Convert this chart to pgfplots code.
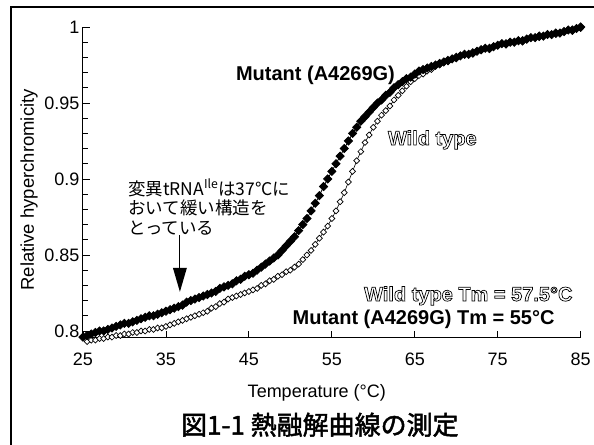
\documentclass[border=0pt]{standalone}
\usepackage{pgfplots}
\pgfplotsset{compat=1.18}
\usepackage{fontspec}
\setmainfont{Liberation Sans}
\newfontfamily\cjk{Noto Sans CJK JP}
\newcommand{\fs}[1]{\fontsize{#1bp}{#1bp}\selectfont}
\newcommand{\otext}[1]{\special{pdf:literal direct 1 Tr 0.7 w}#1\special{pdf:literal direct 0 Tr}}
\newcommand{\mtext}[1]{\special{pdf:literal direct 2 Tr 0.5 w}#1\special{pdf:literal direct 0 Tr}}
\begin{document}
\begin{tikzpicture}[x=1bp,y=1bp]
\begin{scope}[shift={(-83bp,-107bp)}]
\path[use as bounding box] (0,0) rectangle (594,445);
\draw[line width=1.3bp] (11,0) -- (11,438) -- (594,438);
\end{scope}
\begin{axis}[
  scale only axis, width=498bp, height=311bp,
  xmin=25, xmax=85, ymin=0.7955, ymax=1.0,
  axis x line*=bottom, axis y line*=left,
  axis line style={line width=1bp, -},
  xtick={25,35,45,55,65,75,85},
  ytick={0.8,0.85,0.9,0.95,1},
  yticklabels={0.8,0.85,0.9,0.95,1},
  minor y tick num=4,
  tick align=inside,
  major tick length=7bp, minor tick length=5bp,
  tick style={line width=0.8bp, black},
  /pgf/number format/assume math mode=true,
  ticklabel style={font=\fs{18}},
  x tick label style={yshift=-12bp},
  clip=false,
]
\addplot[black, line width=0.6bp, mark=square*, mark size=2.1bp,
  mark options={fill=white, draw=black, line width=0.7bp, rotate=45}] table {
25.5 0.793
26.0 0.794
26.5 0.794
27.0 0.795
27.5 0.795
28.0 0.796
28.5 0.796
29.0 0.797
29.5 0.797
30.0 0.798
30.5 0.798
31.0 0.799
31.5 0.799
32.0 0.800
32.5 0.800
33.0 0.801
33.5 0.801
34.0 0.802
34.5 0.802
35.0 0.803
35.5 0.804
36.0 0.805
36.5 0.806
37.0 0.807
37.5 0.808
38.0 0.809
38.5 0.810
39.0 0.811
39.5 0.812
40.0 0.813
40.5 0.815
41.0 0.816
41.5 0.818
42.0 0.819
42.5 0.821
43.0 0.822
43.5 0.823
44.0 0.824
44.5 0.825
45.0 0.826
45.5 0.827
46.0 0.828
46.5 0.830
47.0 0.831
47.5 0.833
48.0 0.834
48.5 0.836
49.0 0.837
49.5 0.839
50.0 0.840
50.5 0.842
51.0 0.844
51.5 0.847
52.0 0.850
52.5 0.853
53.0 0.857
53.5 0.861
54.0 0.865
54.5 0.869
55.0 0.874
55.5 0.879
56.0 0.885
56.5 0.891
57.0 0.898
57.5 0.905
58.0 0.912
58.5 0.918
59.0 0.924
59.5 0.929
60.0 0.934
60.5 0.938
61.0 0.942
61.5 0.945
62.0 0.948
62.5 0.952
63.0 0.955
63.5 0.958
64.0 0.961
64.5 0.964
65.0 0.966
65.5 0.968
66.0 0.969
66.5 0.971
67.0 0.972
67.5 0.974
68.0 0.975
69.0 0.977
70.0 0.979
72.0 0.982
74.0 0.985
76.0 0.988
78.0 0.990
80.0 0.993
82.0 0.995
84.0 0.997
85.0 0.999
};
\addplot[black, line width=0.8bp, mark=square*, mark size=2.9bp,
  mark options={fill=black, rotate=45}] table {
25.0 0.796
25.5 0.797
26.0 0.798
26.5 0.799
27.0 0.800
27.5 0.800
28.0 0.801
28.5 0.802
29.0 0.803
29.5 0.804
30.0 0.805
30.5 0.805
31.0 0.806
31.5 0.807
32.0 0.808
32.5 0.809
33.0 0.810
33.5 0.810
34.0 0.811
34.5 0.812
35.0 0.813
35.5 0.814
36.0 0.815
36.5 0.816
37.0 0.817
37.5 0.819
38.0 0.820
38.5 0.821
39.0 0.822
39.5 0.823
40.0 0.824
40.5 0.825
41.0 0.826
41.5 0.828
42.0 0.829
42.5 0.830
43.0 0.831
43.5 0.833
44.0 0.834
44.5 0.836
45.0 0.837
45.5 0.838
46.0 0.840
46.5 0.842
47.0 0.844
47.5 0.846
48.0 0.848
48.5 0.850
49.0 0.853
49.5 0.856
50.0 0.859
50.5 0.862
51.0 0.866
51.5 0.870
52.0 0.874
52.5 0.879
53.0 0.884
53.5 0.889
54.0 0.895
54.5 0.900
55.0 0.905
55.5 0.910
56.0 0.915
56.5 0.920
57.0 0.925
57.5 0.930
58.0 0.934
58.5 0.938
59.0 0.941
59.5 0.944
60.0 0.947
60.5 0.950
61.0 0.952
61.5 0.955
62.0 0.957
62.5 0.960
63.0 0.962
63.5 0.964
64.0 0.966
64.5 0.967
65.0 0.969
65.5 0.971
66.0 0.972
66.5 0.973
67.0 0.974
67.5 0.975
68.0 0.976
68.5 0.977
69.0 0.978
69.5 0.979
70.0 0.980
70.5 0.981
71.0 0.982
71.5 0.982
72.0 0.983
72.5 0.984
73.0 0.985
73.5 0.986
74.0 0.986
74.5 0.987
75.0 0.988
75.5 0.989
76.0 0.989
76.5 0.990
77.0 0.990
77.5 0.991
78.0 0.991
78.5 0.992
79.0 0.993
79.5 0.993
80.0 0.994
80.5 0.994
81.0 0.995
81.5 0.995
82.0 0.996
82.5 0.996
83.0 0.997
83.5 0.998
84.0 0.998
84.5 0.999
85.0 1.000
};
\end{axis}
\begin{scope}[shift={(-83bp,-107bp)}]
\node[anchor=west, inner sep=0pt, font=\fs{20}\bfseries] at (236,370) {Mutant (A4269G)};
\node[anchor=west, inner sep=0pt, font=\fs{20}\bfseries] at (388,305) {\otext{Wild type}};
\node[anchor=east, inner sep=0pt, font=\fs{20}\bfseries] at (573,149) {\otext{Wild type Tm = 57.5°C}};
\node[anchor=east, inner sep=0pt, font=\fs{20}\bfseries] at (555,125) {Mutant (A4269G) Tm = 55°C};
\node[anchor=west, inner sep=0pt, font=\cjk\fs{17.5}] at (128,257) {変異tRNA\textsuperscript{Ile}は37°Cに};
\node[anchor=west, inner sep=0pt, font=\cjk\fs{17.5}] at (128,237) {おいて緩い構造を};
\node[anchor=west, inner sep=0pt, font=\cjk\fs{17.5}] at (128,217) {とっている};
\draw[line width=1bp] (180,210) -- (180,175);
\fill (180,153) -- (173,177) -- (187,177) -- cycle;
\node[inner sep=0pt, font=\fs{18}] at (317,52) {Temperature (°C)};
\node[inner sep=0pt, rotate=90, font=\fs{18.5}] at (29,255) {Relative hyperchromicity};
\node[inner sep=0pt, font=\cjk\fs{26}] at (320,20) {\mtext{図1-1 熱融解曲線の測定}};
\end{scope}
\end{tikzpicture}
\end{document}
